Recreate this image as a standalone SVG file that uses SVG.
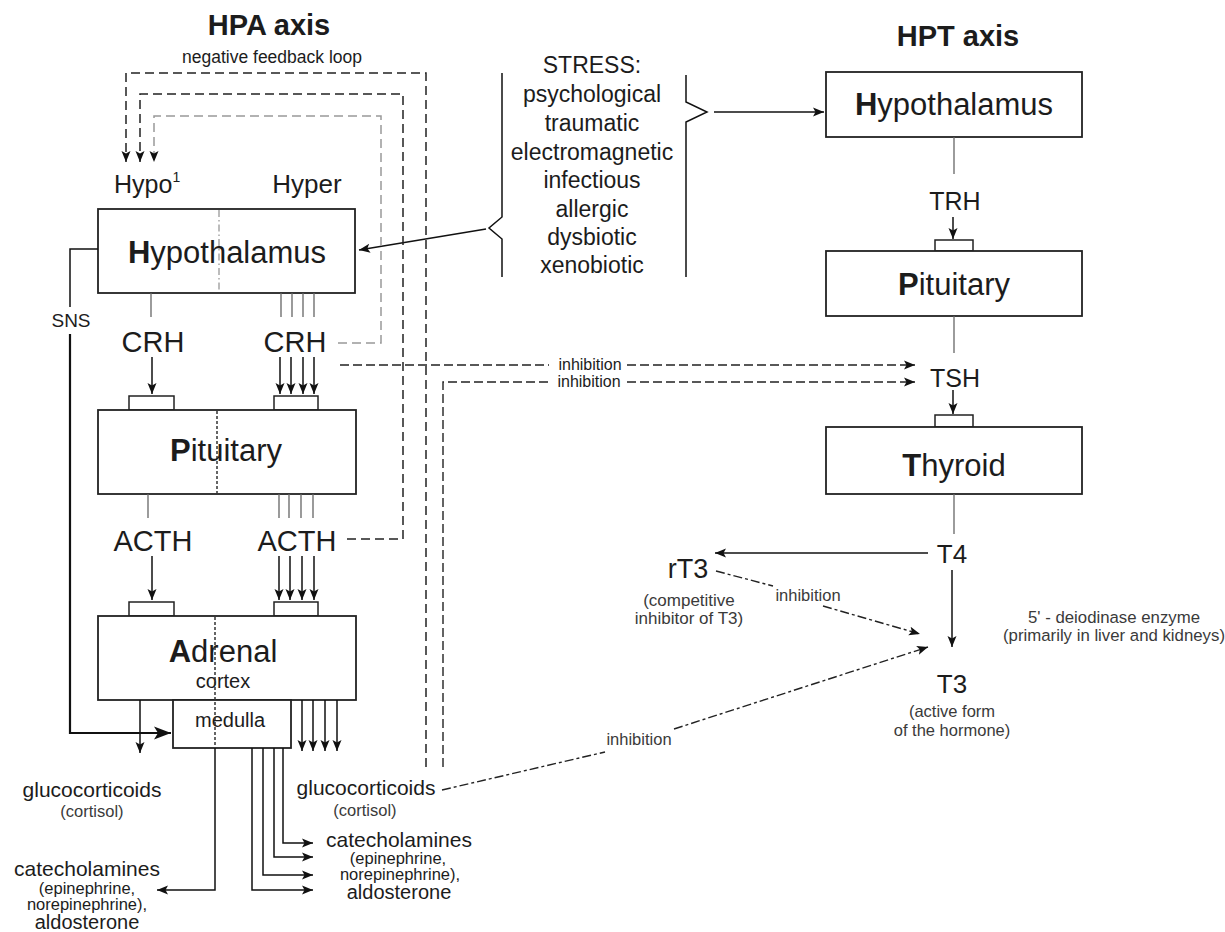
<svg xmlns="http://www.w3.org/2000/svg" width="1225" height="932" viewBox="0 0 1225 932">
<defs>
<marker id="ah" markerUnits="userSpaceOnUse" markerWidth="12" markerHeight="10" refX="11" refY="5" orient="auto">
<path d="M0,0.5 L11,5 L0,9.5 L2.5,5 z" fill="#111"/>
</marker>
<marker id="ahb" markerUnits="userSpaceOnUse" markerWidth="18" markerHeight="14" refX="17" refY="7" orient="auto">
<path d="M0,0.5 L17,7 L0,13.5 L4,7 z" fill="#111"/>
</marker>
<style>
.t{font-family:"Liberation Sans",Arial,sans-serif;fill:#1c1c1c;text-anchor:middle}
.s{fill:#3a3a3a}
.b{font-weight:bold}
.box{fill:#fff;stroke:#222;stroke-width:1.8}
.rec{fill:#fff;stroke:#222;stroke-width:1.5}
.ln{fill:none;stroke:#111;stroke-width:1.5}
.thick{fill:none;stroke:#111;stroke-width:2.2}
.thin{fill:none;stroke:#666;stroke-width:1.3}
.dash{fill:none;stroke:#222;stroke-width:1.5;stroke-dasharray:9 5}
.dashg{fill:none;stroke:#999;stroke-width:1.5;stroke-dasharray:9 5}
.inh{fill:none;stroke:#222;stroke-width:1.4;stroke-dasharray:9 4}
.inh2{fill:none;stroke:#222;stroke-width:1.4;stroke-dasharray:9 3 3 3}
.dot{fill:none;stroke:#333;stroke-width:1.5;stroke-dasharray:3 2}
.dashdot{fill:none;stroke:#999;stroke-width:1.3;stroke-dasharray:7 3 1.5 3}
</style>
</defs>

<g id="hpa-title">
<text class="t b" x="269" y="35" font-size="29">HPA axis</text>
<text class="t" x="272" y="63" font-size="17.5">negative feedback loop</text>
<text class="t" x="114" y="193" font-size="25" style="text-anchor:start">Hypo<tspan font-size="14" dy="-11">1</tspan></text>
<text class="t" x="307" y="193" font-size="26">Hyper</text>
</g>

<g id="hpa-hypothalamus">
<rect class="box" x="98" y="209" width="257" height="84"/>
<line class="dashdot" x1="219" y1="210" x2="219" y2="292"/>
<text class="t" x="227" y="263" font-size="31"><tspan class="b">H</tspan>ypothalamus</text>
</g>

<g id="hpa-pituitary">
<rect class="rec" x="129" y="396" width="45" height="14"/>
<rect class="rec" x="274" y="396" width="44" height="14"/>
<rect class="box" x="98" y="410" width="258" height="84"/>
<line class="dot" x1="217" y1="411" x2="217" y2="493"/>
<text class="t" x="226" y="461" font-size="31"><tspan class="b">P</tspan>ituitary</text>
</g>

<g id="hpa-adrenal">
<rect class="rec" x="129" y="602" width="45" height="14"/>
<rect class="rec" x="274" y="602" width="44" height="14"/>
<rect class="box" x="98" y="616" width="258" height="84"/>
<text class="t" x="223" y="662" font-size="31"><tspan class="b">A</tspan>drenal</text>
<text class="t" x="223" y="688" font-size="20">cortex</text>
</g>

<g id="medulla">
<rect class="box" x="173" y="700" width="118" height="48"/>
<text class="t" x="230" y="727" font-size="20">medulla</text>
<line class="dot" x1="215" y1="617" x2="215" y2="747"/>
</g>

<g id="crh">
<text class="t" x="153" y="352" font-size="29">CRH</text>
<text class="t" x="295" y="352" font-size="29">CRH</text>
</g>
<g id="acth">
<text class="t" x="153" y="551" font-size="29">ACTH</text>
<text class="t" x="297" y="551" font-size="29">ACTH</text>
</g>
<g id="sns"><text class="t" x="71" y="327" font-size="19">SNS</text></g>

<g id="outputs-left">
<text class="t" x="92" y="797" font-size="21">glucocorticoids</text>
<text class="t s" x="92" y="817" font-size="16.5">(cortisol)</text>
<text class="t" x="87" y="876" font-size="21">catecholamines</text>
<text class="t" x="87" y="894" font-size="16.5">(epinephrine,</text>
<text class="t" x="87" y="910" font-size="16.5">norepinephrine),</text>
<text class="t" x="87" y="929" font-size="20">aldosterone</text>
</g>
<g id="outputs-right">
<text class="t" x="366" y="795" font-size="21">glucocorticoids</text>
<text class="t s" x="365" y="816" font-size="16.5">(cortisol)</text>
<text class="t" x="399" y="847" font-size="21">catecholamines</text>
<text class="t" x="398" y="864" font-size="16.5">(epinephrine,</text>
<text class="t" x="400" y="880" font-size="16.5">norepinephrine),</text>
<text class="t" x="399" y="899" font-size="20">aldosterone</text>
</g>

<g id="stress">
<text class="t" x="592" y="73" font-size="23">STRESS:</text>
<text class="t" x="592" y="102" font-size="23">psychological</text>
<text class="t" x="592" y="131" font-size="23">traumatic</text>
<text class="t" x="592" y="160" font-size="23">electromagnetic</text>
<text class="t" x="592" y="188" font-size="23">infectious</text>
<text class="t" x="592" y="217" font-size="23">allergic</text>
<text class="t" x="592" y="245" font-size="23">dysbiotic</text>
<text class="t" x="592" y="273" font-size="23">xenobiotic</text>
<path class="ln" d="M502,73 V217 L489,228 L502,239 V277"/>
<path class="ln" d="M686,75 V102 L707,112 L686,122 V277"/>
</g>

<g id="hpt-title"><text class="t b" x="958" y="46" font-size="29">HPT axis</text></g>
<g id="hpt-hypothalamus">
<rect class="box" x="826" y="72" width="256" height="65"/>
<text class="t" x="954" y="115" font-size="31"><tspan class="b">H</tspan>ypothalamus</text>
</g>
<g id="trh"><text class="t" x="955" y="210" font-size="25">TRH</text></g>
<g id="hpt-pituitary">
<rect class="rec" x="935" y="240" width="38" height="11"/>
<rect class="box" x="826" y="251" width="256" height="65"/>
<text class="t" x="954" y="295" font-size="31"><tspan class="b">P</tspan>ituitary</text>
</g>
<g id="tsh"><text class="t" x="955" y="387" font-size="25">TSH</text></g>
<g id="hpt-thyroid">
<rect class="rec" x="935" y="415" width="38" height="12"/>
<rect class="box" x="826" y="427" width="256" height="67"/>
<text class="t" x="954" y="476" font-size="31"><tspan class="b">T</tspan>hyroid</text>
</g>
<g id="t4"><text class="t" x="952" y="563" font-size="26">T4</text></g>
<g id="rt3">
<text class="t" x="688" y="578" font-size="27">rT3</text>
<text class="t s" x="689" y="606" font-size="17">(competitive</text>
<text class="t s" x="689" y="624" font-size="17">inhibitor of T3)</text>
</g>
<g id="t3">
<text class="t" x="952" y="693" font-size="26">T3</text>
<text class="t s" x="952" y="717" font-size="16.5">(active form</text>
<text class="t s" x="952" y="736" font-size="16.5">of the hormone)</text>
</g>
<g id="deiodinase">
<text class="t s" x="1114" y="623" font-size="16.8">5' - deiodinase enzyme</text>
<text class="t s" x="1114" y="641" font-size="16.8">(primarily in liver and kidneys)</text>
</g>

<g id="connectors">
<path class="ln" d="M486,229 L359,250" marker-end="url(#ah)"/>
<path class="ln" d="M714,112 H824" marker-end="url(#ah)"/>
<path class="thin" d="M151,293 V317"/>
<path class="thin" d="M281,293 V317 M292,293 V317 M303,293 V317 M314,293 V317"/>
<path class="ln" d="M152,357 V394" marker-end="url(#ah)"/>
<path class="ln" d="M280,357 V394" marker-end="url(#ah)"/>
<path class="ln" d="M291,357 V394" marker-end="url(#ah)"/>
<path class="ln" d="M303,357 V394" marker-end="url(#ah)"/>
<path class="ln" d="M314,357 V394" marker-end="url(#ah)"/>
<path class="thin" d="M148,494 V518"/>
<path class="thin" d="M279,494 V518 M289,494 V518 M301,494 V518 M313,494 V518"/>
<path class="ln" d="M152,556 V600" marker-end="url(#ah)"/>
<path class="ln" d="M279,556 V600" marker-end="url(#ah)"/>
<path class="ln" d="M290,556 V600" marker-end="url(#ah)"/>
<path class="ln" d="M302,556 V600" marker-end="url(#ah)"/>
<path class="ln" d="M314,556 V600" marker-end="url(#ah)"/>
<path class="ln" d="M140,700 V753" marker-end="url(#ah)"/>
<path class="ln" d="M302,700 V751" marker-end="url(#ah)"/>
<path class="ln" d="M313,700 V751" marker-end="url(#ah)"/>
<path class="ln" d="M325,700 V751" marker-end="url(#ah)"/>
<path class="ln" d="M337,700 V751" marker-end="url(#ah)"/>
<path class="ln" d="M98,249 H70 V307"/>
<path class="thick" d="M70,334 V733 H171" marker-end="url(#ahb)"/>
<path class="ln" d="M215,748 V890 H157" marker-end="url(#ah)"/>
<path class="ln" d="M283,748 V843 H313" marker-end="url(#ah)"/>
<path class="ln" d="M274,748 V857 H313" marker-end="url(#ah)"/>
<path class="ln" d="M263,748 V875 H313" marker-end="url(#ah)"/>
<path class="ln" d="M252,748 V890 H313" marker-end="url(#ah)"/>
<path class="dash" d="M426,767 V73 H126 V162" marker-end="url(#ah)"/>
<path class="dash" d="M347,539 H403 V94 H140 V162" marker-end="url(#ah)"/>
<path class="dashg" d="M338,343 H381 V116 H154 V162" marker-end="url(#ah)"/>
<path class="inh" d="M340,365 H549"/>
<path class="inh" d="M627,365 H915" marker-end="url(#ah)"/>
<text class="t" x="590" y="370" font-size="16">inhibition</text>
<path class="inh" d="M443,767 V382 H551"/>
<path class="inh" d="M627,382 H915" marker-end="url(#ah)"/>
<text class="t" x="589" y="387" font-size="16">inhibition</text>
<path class="thin" d="M954,137 V174"/>
<path class="ln" d="M953,217 V239" marker-end="url(#ah)"/>
<path class="thin" d="M954,316 V353"/>
<path class="ln" d="M953,390 V414" marker-end="url(#ah)"/>
<path class="thin" d="M954,494 V534"/>
<path class="ln" d="M928,553 H715" marker-end="url(#ah)"/>
<path class="ln" d="M952,570 V647" marker-end="url(#ah)"/>
<path class="inh2" d="M716,571 L773,586"/>
<text class="t s" x="808" y="601" font-size="16.5">inhibition</text>
<path class="inh2" d="M823,606 L920,634" marker-end="url(#ah)"/>
<path class="inh2" d="M442,790 L605,752"/>
<text class="t s" x="639" y="745" font-size="16.5">inhibition</text>
<path class="inh2" d="M674,729 L928,647" marker-end="url(#ah)"/>
</g>
</svg>
